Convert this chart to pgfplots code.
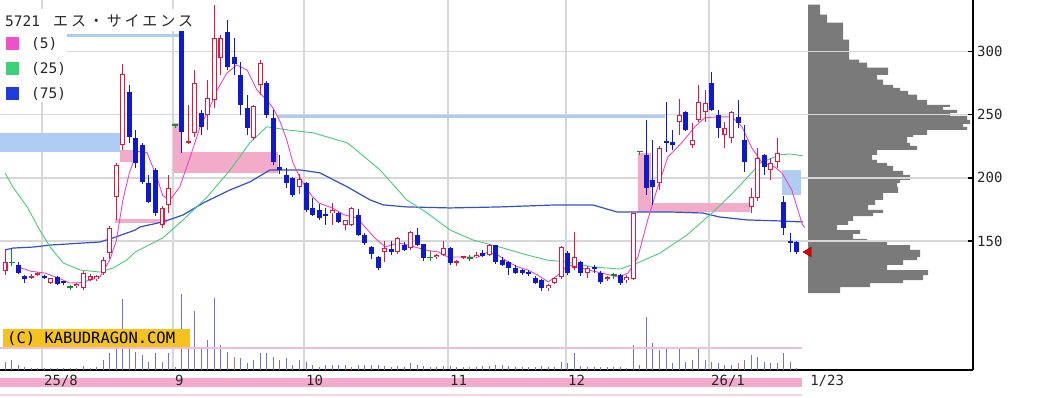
\documentclass[border=0pt]{standalone}
\usepackage{fontspec}
\setmainfont{DejaVu Sans}
\newfontfamily\mono{DejaVu Sans Mono}
\newfontfamily\jp{Noto Sans CJK JP}
\usepackage{pgfplots}
\usepackage{pgfplotstable}
\pgfplotsset{compat=1.18}
\definecolor{cred}{RGB}{225,25,65}
\definecolor{cblue}{RGB}{15,25,205}
\definecolor{cgreen}{RGB}{20,140,40}
\definecolor{ma5}{RGB}{230,70,200}
\definecolor{ma25}{RGB}{70,205,120}
\definecolor{ma75}{RGB}{50,80,205}
\definecolor{lblue}{RGB}{175,205,242}
\definecolor{lpink}{RGB}{242,172,202}
\definecolor{gridc}{RGB}{215,215,215}
\definecolor{volc}{RGB}{115,115,205}
\definecolor{volr}{RGB}{205,110,110}
\definecolor{profc}{RGB}{122,122,122}
\definecolor{wmy}{RGB}{245,195,30}
\definecolor{bandc}{RGB}{244,170,204}
\definecolor{lgpink}{RGB}{240,80,200}
\definecolor{lggreen}{RGB}{60,210,120}
\definecolor{lgblue}{RGB}{30,60,220}

\pgfplotsset{
  candlebar/.style 2 args={draw=none, mark=none, forget plot,
    error bars/.cd, y dir=both, y explicit, error mark=none,
    error bar style={line width=#1, draw=#2, solid}},
}

% up (red, hollow) candles: index open high low close
\pgfplotstableread{
i o h l c
0 126 144 123 133.5
4 121 123.5 120 122.5
5 123.5 125.5 122.5 124.5
7 116.5 121 116 120.5
11 114 116.5 113 116
12 113 126 111 124.6
13 119 124 118 122
14 119.5 123 118 122
15 124.6 137 123 135
16 140.5 162 136 160.3
17 185 212 166.7 210
18 226 290 222 282
24 163 178 160 176
25 178.5 202 172 192
28 227.5 258 227 229
29 235.7 285.7 232.5 275.4
31 250 277.8 238 263.5
32 262 337 255.5 311
33 295 313 281.7 311
38 231.7 258 230 257
39 273.8 293.6 266 291.3
45 193 203 187 199
50 172 180 163 174.6
52 163 167 159 166.7
53 163 177 162 176
58 141 150 133 144.4
60 141 153 140 152
62 144.4 158 143 157
66 137 140 136 139
67 139 150 138 144.4
69 132.5 135 130 134
70 136.8 138.5 135.5 137.6
72 137 141 136.5 139
74 139 147.5 138 146.8
83 112.7 116 110 115
84 116.7 121.5 116 120.6
85 121.4 146 120 145
87 129 157 127 137
89 124.6 130 121 128.6
92 120 122 118 121.4
95 119 123 117 121.4
96 120 172.5 119 172
100 196 225 190.5 224
103 244 262.7 234 250
105 226 243.6 224 230
106 246 273.8 244 260
107 252 270 244 259.5
110 234 244 224 239.7
111 231.7 253 228 252.4
114 177 192 172 185
115 184 224 182 216
117 206 216 198 212
118 212.7 231.7 208 220
}\up

% down (blue, filled) candles
\pgfplotstableread{
i o h l c
2 131 133 124 124.6
3 122 123 117 120
6 122 123 120 121
8 121.4 122 115.5 116
9 118 118.5 115.5 117
19 268 274 228 232.5
20 232 238 208 212
21 226 228 195 197
22 196 202 180 181
23 206 208 170 172
27 317 318 220 236
30 251.6 254 234 240.5
34 316 325 285.7 288
35 296 311 281.7 290
36 281.7 292 250 258
37 255.5 266 234 239.7
40 275.4 277 247.6 250
41 247.6 254 210 212.7
42 209 218 203 206
43 202 208 192 196
44 200 201 185 186.5
46 196 197 173 174.6
47 176 184 170 170.6
48 174.6 179 167 168
49 171 176 163 170
51 172 173 164 165
54 171 175 154 155
55 155 156 147 148.4
56 145 146 136 140
57 137 138 127 129
59 144 150 139 141
61 147 149 142 143
63 155 160 146 147
64 147.6 148 134 136.5
68 144.4 145 131 132.5
73 140.5 143 137 138
75 146.8 147 132 133.3
76 135 137 130 131
77 133 134 123 129
78 129 131 124 125
79 127 128 123 124.6
80 125.5 127 122 124
81 120.6 122 116 116.7
82 119 120 110 112.7
86 140.5 142 123 124.6
88 133 134 122 124.6
90 129.4 131 125 127.8
91 125 126 116 117.5
94 123 124 115 116.7
98 218 246 186.5 192
99 198 230 178.6 193
101 229.5 260 220.6 228
102 228.6 238 222 226
104 252 253 237 238
108 275 284 253 254
109 250 254 231.7 239.7
112 248.4 262 239.7 243.6
113 230 242 204.8 212.7
116 218 219 202 208.7
119 181 186 155 160
120 150 156 141 149
121 149 150 140 141
}\down

% doji / limit-up marks
\pgfplotstableread{
i c h l
1 133 144 130
10 113.5 115.5 111.5
26 242 242 239.5
65 137 142 134
71 136.5 139 134
93 123 125 120
97 221 221 218.5
}\doji

% volume (drawn height)
\pgfplotstableread{
i v
0 8
1 10
2 5
3 3
4 2
5 2
6 2
7 2
8 2
9 2
10 2
11 2
12 4
13 2
14 3
15 10
16 17
17 23
18 71
19 23
20 18
21 15
22 8
23 17
24 8
25 17
26 3
27 76
28 23
29 59
30 22
31 30
32 72
33 25
34 18
35 13
36 12
37 7
38 10
39 17
40 17
41 13
42 10
43 12
44 5
45 10
46 8
47 5
48 3
49 5
50 5
51 5
52 5
53 3
54 5
55 5
56 5
57 5
58 4
59 3
60 4
61 3
62 7
63 5
64 4
65 3
66 3
67 4
68 4
69 3
70 3
71 3
72 3
73 4
74 4
75 5
76 5
77 4
78 3
79 3
80 3
81 3
82 4
83 3
84 3
85 8
86 7
87 17
88 4
89 3
90 3
91 3
92 3
93 3
94 3
95 2
96 25
97 5
98 53
99 27
100 20
101 22
102 7
103 23
104 8
105 10
106 22
107 10
108 8
109 7
110 5
111 5
112 7
113 10
114 15
115 13
116 8
117 7
118 7
119 17
120 8
121 2
}\vol

\begin{document}
\begin{tikzpicture}
\useasboundingbox (0,0) rectangle (1042pt,397pt);

% bottom pink band
\fill[bandc] (0pt,10pt) rectangle (802pt,19pt);
\draw[bandc!50, line width=1.5pt] (0pt,2pt) -- (802pt,2pt);

% volume profile
\begin{axis}[at={(0pt,27pt)}, anchor=south west, scale only axis,
  width=973pt, height=370pt, xmin=-808, xmax=165, ymin=47.78, ymax=340.97, hide axis]
\addplot[fill=profc, draw=none] coordinates {
(0,337.3) (12,337.3) (12,329.4) (19,329.4) (19,323.0) (35,323.0) (35,309.5) (41,309.5)
(41,293.7) (51,293.7) (51,291.3) (59,291.3) (59,287.3) (80,287.3) (80,281.7) (69,281.7)
(69,277.8) (75,277.8) (75,273.8) (85,273.8) (85,271.4) (92,271.4) (92,269.0) (100,269.0)
(100,265.9) (109,265.9) (109,261.9) (119,261.9) (119,257.9) (142,257.9) (142,256.3) (135,256.3)
(135,254.0) (149,254.0) (149,251.6) (142,251.6) (142,249.2) (159,249.2) (159,246.0) (162,246.0)
(162,242.9) (155,242.9) (155,240.5) (159,240.5) (159,238.1) (119,238.1) (119,234.1) (105,234.1)
(105,232.5) (99,232.5) (99,227.8) (102,227.8) (102,225.4) (109,225.4) (109,222.2) (69,222.2)
(69,218.3) (64,218.3) (64,214.3) (69,214.3) (69,211.9) (79,211.9) (79,209.5) (85,209.5)
(85,205.6) (95,205.6) (95,202.4) (102,202.4) (102,198.4) (92,198.4) (92,196.0) (89,196.0)
(89,192.9) (90,192.9) (90,188.1) (75,188.1) (75,182.5) (67,182.5) (67,178.6) (60,178.6)
(60,174.6) (75,174.6) (75,172.2) (65,172.2) (65,169.8) (45,169.8) (45,165.9) (40,165.9)
(40,162.7) (29,162.7) (29,158.7) (52,158.7) (52,155.6) (45,155.6) (45,151.6) (59,151.6)
(59,149.2) (79,149.2) (79,146.8) (102,146.8) (102,142.9) (112,142.9) (112,137.3) (109,137.3)
(109,134.9) (95,134.9) (95,131.0) (79,131.0) (79,127.0) (120,127.0) (120,123.0) (115,123.0)
(115,119.0) (95,119.0) (95,116.7) (62,116.7) (62,113.5) (32,113.5) (32,108.7) (0,108.7)} -- cycle;
\end{axis}

% main price axis
\begin{axis}[at={(0pt,27pt)}, anchor=south west, scale only axis,
  width=973pt, height=370pt,
  xmin=-0.764, xmax=147.9, ymin=47.78, ymax=340.97,
  axis x line*=bottom, axis y line*=right,
  axis line style={line width=1.3pt, black},
  xtick={5.65,25.67,45.68,67.69,85.71,107.56},
  xticklabels={25/8,9,10,11,12,26/1},
  extra x ticks={122.7}, extra x tick labels={1/23},
  extra x tick style={grid=none},
  ytick={150,200,250,300},
  grid=major, grid style={draw=gridc, line width=1.3pt},
  tick align=inside, major tick length=5pt,
  x tick style={draw=none},
  y tick style={line width=1.2pt, black},
  /pgf/number format/assume math mode=true,
  tick label style={font=\mono\fontsize{14}{16}\selectfont, text=black!85},
  xticklabel style={anchor=north west, inner sep=0pt, yshift=-5pt, xshift=2pt},
  yticklabel style={anchor=west, inner sep=0pt, xshift=4pt},
]
% zones
\addplot[fill=lblue, draw=none, forget plot] coordinates {(-0.764,220.5) (17.6,220.5) (17.6,235.6) (-0.764,235.6)} -- cycle;
\addplot[fill=lblue, draw=none, forget plot] coordinates {(118.7,186.5) (121.6,186.5) (121.6,206.3) (118.7,206.3)} -- cycle;
\addplot[lblue, line width=3pt, forget plot] coordinates {(-0.764,313.2) (26.7,313.2)};
\addplot[lblue, line width=3pt, forget plot] coordinates {(41.6,249.0) (100.8,249.0)};
\addplot[fill=lpink, draw=none, forget plot] coordinates {(17.6,212.6) (19.9,212.6) (19.9,222.1) (17.6,222.1)} -- cycle;
\addplot[fill=lpink, draw=none, forget plot] coordinates {(16.8,164.3) (24.8,164.3) (24.8,167.4) (16.8,167.4)} -- cycle;
\addplot[fill=lpink, draw=none, forget plot] coordinates {(25.7,203.9) (41.7,203.9) (41.7,220.5) (26.9,220.5) (26.9,243.5) (25.7,243.5)} -- cycle;
\addplot[fill=lpink, draw=none, forget plot] coordinates {(96.7,173.0) (113.8,173.0) (113.8,180.1) (98.7,180.1) (98.7,219.7) (96.7,219.7)} -- cycle;

% moving averages
\addplot[ma75, line width=1.2pt, forget plot] coordinates {
(0,142.9) (1.2,144.4) (4.3,145.2) (6.9,146.8) (11.9,148.4) (14.5,149.2) (16.5,152.4) (18.6,156.3)
(19.9,158.7) (20.6,161.1) (24.1,165.1) (27.2,170.6) (30.3,180.2) (34.4,190.5) (37.4,196.8) (40.5,206.3)
(42.0,206.3) (45.1,206.3) (48.1,204.0) (52.3,192.9) (55.8,182.5) (57.8,178.6) (61.4,177.0) (68.0,176.2)
(75.6,177.0) (84.3,178.6) (89.8,178.6) (93.5,173.0) (97.5,173.0) (101.6,173.0) (106.6,172.2) (109.2,169.0)
(113.4,166.7) (118.4,165.9) (121.9,165.1)};
\addplot[ma25, line width=0.9pt, forget plot] coordinates {
(0,203.9) (1.2,192.8) (3.4,176.9) (5.3,158.7) (6.9,145.2) (8.9,132.6) (11.5,127.0) (14.5,125.4)
(16.5,128.6) (18.6,134.9) (19.9,141.3) (24.1,152.4) (27.2,166.7) (30.9,184.9) (34.4,206.3) (37.4,227.8)
(40.0,240.5) (43.1,238.1) (47.1,235.7) (52.3,227.8) (54.2,219.8) (57.3,206.3) (61.4,182.5) (64.5,172.2)
(68.0,158.7) (71.5,150.8) (75.6,145.2) (79.8,138.9) (82.8,134.9) (85.9,133.3) (89.8,129.4) (94.0,127.8)
(96.6,132.5) (100.1,140.5) (104.2,154.8) (108.2,173.0) (111.2,188.1) (113.8,202.4) (115.4,211.9) (118.4,218.3)
(119.9,219.0) (121.9,217.5)};
\addplot[ma5, line width=0.9pt, forget plot] coordinates {
(2.0,129.4) (4,126) (6.1,124.6) (8,121) (9.9,116.7) (11.5,117) (13.0,119.0) (14.5,121.4) (16.0,134.9)
(17.0,150) (18.0,182) (19.0,204) (20.2,221) (21.7,220) (23.2,200.7) (24.1,186) (25.2,182.5) (26.7,192.8)
(28.3,216.6) (29.8,240.3) (31.3,256) (32.4,269.6) (33.9,283) (35.4,289.5) (37.0,285.5) (38.5,269.6)
(40.0,261.7) (41,255) (42,245) (43,231) (44,212) (45,201) (46,192) (47,185) (48,180) (50,176.2)
(51.9,170.6) (53.8,168.3) (55,161.1) (56.5,152.4) (58.1,145.2) (60.0,148.4) (61.6,146.8) (64.2,142.9)
(66.2,141.3) (67.7,137.3) (69.8,137.3) (72.3,137.3) (73.8,141.3) (75.3,138.9) (76.9,133.3) (78.4,129.4)
(79.9,127.0) (81.4,123.0) (83.0,117.5) (84.5,123.0) (86.0,131.0) (87.6,129.4) (89.1,127.0) (91.2,124.6)
(93.7,121.4) (95.2,124.6) (96.7,137.3) (98.2,166.7) (99.6,190.5) (101.3,216.7) (103.4,227.8) (105.4,240.5)
(106.9,247.6) (108.9,248.4) (111.1,248.4) (112.6,240.5) (114.1,223.8) (115.7,211.9) (117.6,208.7) (118.7,204.0)
(120.2,190.5) (121.8,163.5) (122.2,160.3)};

% candles: wicks
\addplot[candlebar={1pt}{cred}]
  table[x=i, y expr={(\thisrow{h}+\thisrow{l})/2}, y error expr={(\thisrow{h}-\thisrow{l})/2}] \up;
\addplot[candlebar={1pt}{cblue}]
  table[x=i, y expr={(\thisrow{h}+\thisrow{l})/2}, y error expr={(\thisrow{h}-\thisrow{l})/2}] \down;
\addplot[candlebar={1pt}{cgreen}]
  table[x=i, y expr={(\thisrow{h}+\thisrow{l})/2}, y error expr={(\thisrow{h}-\thisrow{l})/2}] \doji;
% bodies
\addplot[candlebar={5pt}{cred}]
  table[x=i, y expr={(\thisrow{o}+\thisrow{c})/2}, y error expr={max((\thisrow{c}-\thisrow{o})/2,0.6)}] \up;
\addplot[candlebar={2.8pt}{white}]
  table[x=i, y expr={(\thisrow{o}+\thisrow{c})/2}, y error expr={max((\thisrow{c}-\thisrow{o})/2-0.8,0)}] \up;
\addplot[candlebar={5pt}{cblue}]
  table[x=i, y expr={(\thisrow{o}+\thisrow{c})/2}, y error expr={max((\thisrow{o}-\thisrow{c})/2,0.6)}] \down;
\addplot[only marks, mark=-, mark size=3pt, forget plot, mark options={line width=1.3pt, draw=cgreen}]
  table[x=i, y=c] \doji;

% last price marker
\addplot[only marks, mark=triangle*, mark size=5.5pt, forget plot,
  mark options={rotate=90, fill=red!90!black, draw=red!50!black}] coordinates {(122.75,141.3)};
\end{axis}

% volume
\begin{axis}[at={(0pt,27pt)}, anchor=south west, scale only axis,
  width=973pt, height=370pt, xmin=-0.764, xmax=147.9, ymin=0, ymax=370, hide axis]
\addplot[ycomb, draw=volc, line width=1pt, mark=none] table[x=i, y=v] \vol;
\addplot[ycomb, draw=volr, line width=1pt, mark=none] coordinates {(11,2) (35,13) (53,3) (71,3) (112,7)};
\addplot[draw=bandc!80, line width=2pt] coordinates {(-0.764,22) (121.8,22)};
\end{axis}

% watermark
\fill[wmy] (3pt,50pt) rectangle (190pt,68pt);
\node[anchor=base west, inner sep=0pt] at (7pt,54pt) {\mono\fontsize{15.5}{17}\selectfont (C) KABUDRAGON.COM};

% legend box and title
\fill[white] (0pt,295pt) rectangle (67pt,367pt);
\fill[white] (0pt,366pt) rectangle (197pt,388pt);
\node[anchor=base west, inner sep=0pt, text=black!85] at (5pt,370.5pt) {\mono\fontsize{14.5}{16}\selectfont 5721};
\node[anchor=base west, inner sep=0pt, text=black!85] at (53pt,370.5pt) {\jp\fontsize{15}{17}\selectfont\makebox[140pt][s]{エ\hfil ス\hfil ・\hfil サ\hfil イ\hfil エ\hfil ン\hfil ス}};
\fill[lgpink] (6pt,347pt) rectangle (19pt,360pt);
\fill[lggreen] (6pt,322pt) rectangle (19pt,335pt);
\fill[lgblue] (6pt,297pt) rectangle (19pt,310pt);
\node[anchor=base west, inner sep=0pt, text=black!85] at (31pt,348pt) {\mono\fontsize{14.5}{16}\selectfont (5)};
\node[anchor=base west, inner sep=0pt, text=black!85] at (31pt,323pt) {\mono\fontsize{14.5}{16}\selectfont (25)};
\node[anchor=base west, inner sep=0pt, text=black!85] at (31pt,298pt) {\mono\fontsize{14.5}{16}\selectfont (75)};
\end{tikzpicture}
\end{document}
